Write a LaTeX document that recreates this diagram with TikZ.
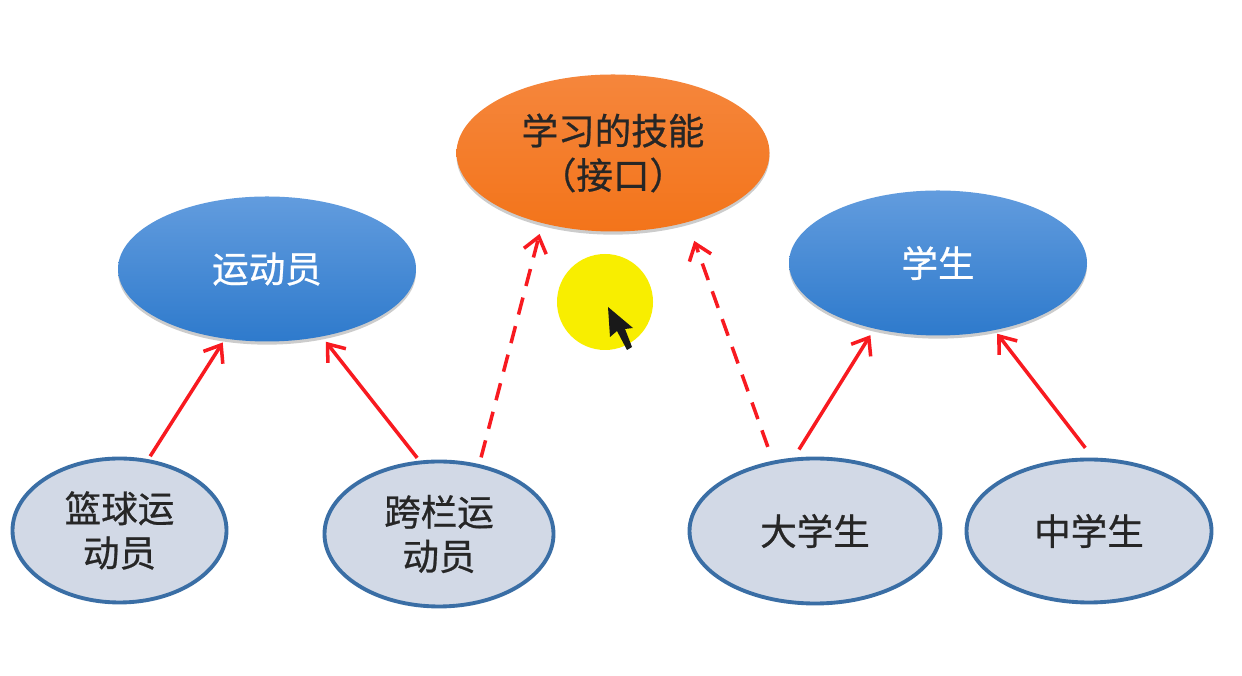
\documentclass[tikz,border=0pt]{standalone}
\usepackage{fontspec}
\setmainfont[RawFeature={embolden=0.7}]{Noto Sans CJK SC}
\usepackage{tikz}
\usetikzlibrary{positioning, arrows.meta, shapes.geometric, shadows}
\definecolor{skillcolor}{RGB}{243,116,26}
\definecolor{skilltop}{RGB}{245,134,60}
\definecolor{basetop}{RGB}{98,156,222}
\definecolor{basebottom}{RGB}{46,122,204}
\definecolor{childfill}{RGB}{210,217,230}
\definecolor{childline}{RGB}{58,110,165}
\definecolor{linkcolor}{RGB}{248,26,32}
\definecolor{markcolor}{RGB}{248,238,0}
\tikzset{
    labeltext/.style={font=\fontsize{10.4}{12.6}\selectfont, align=center},
    topnode/.style={ellipse, inner sep=0pt, labeltext, drop shadow={shadow xshift=0pt, shadow yshift=-0.9pt, opacity=0.4}},
    basenode/.style={topnode, top color=basetop, bottom color=basebottom, text=white, minimum width=2.98cm, minimum height=1.45cm},
    childnode/.style={draw=childline, ellipse, inner sep=0pt, fill=childfill, line width=1.1pt, labeltext, text=black!85},
    solidlink/.style={-{Straight Barb[length=1.5mm, width=2.3mm]}, line width=1pt, linkcolor},
    dashedlink/.style={solidlink, dash pattern=on 5pt off 3.4pt}
}
\begin{document}
\begin{tikzpicture}
    \useasboundingbox (0,0) rectangle (12.42,6.76);
    \fill[white] (0,0) rectangle (12.42,6.76);

    % Interface
    \node[topnode, top color=skilltop, bottom color=skillcolor, text=black!85, minimum width=3.13cm, minimum height=1.57cm] (skill) at (6.13,5.23) {学习的技能\\（接口）};

    % Classes de base
    \node[basenode] (athlete) at (2.67,4.07) {运动员};
    \node[basenode] (student) at (9.38,4.13) {学生};

    % Classes filles
    \node[childnode, minimum width=2.14cm, minimum height=1.44cm] (basketball) at (1.195,1.455) {篮球运\\动员};
    \node[childnode, minimum width=2.29cm, minimum height=1.45cm] (hurdler) at (4.39,1.42) {跨栏运\\动员};
    \node[childnode, minimum width=2.51cm, minimum height=1.45cm] (college) at (8.15,1.45) {大学生};
    \node[childnode, minimum width=2.45cm, minimum height=1.43cm] (school) at (10.89,1.45) {中学生};

    % Flèches pleines
    \draw[solidlink, shorten <=1pt, shorten >=1.1pt] (basketball.68.3) -- (athlete.239.5);
    \draw[solidlink, shorten <=1pt, shorten >=1.7pt] (hurdler.105) -- (athlete.309.3);
    \draw[solidlink, shorten <=2.7pt, shorten >=2pt] (college.106) -- (student.226);
    \draw[solidlink, shorten <=3.5pt, shorten >=1.1pt] (school.87) -- (student.310);

    % Flèches pointillées
    \draw[dashedlink, shorten <=2pt, shorten >=3pt] (hurdler.60.5) -- (skill.225.6);
    \draw[dashedlink, shorten <=4.2pt, shorten >=5.5pt] (college.121) -- (skill.317.6);

    % Curseur
    \node[circle, fill=markcolor, minimum size=0.96cm, inner sep=0pt] (pointer) at (6.05,3.74) {};
    \fill[black!90] (6.08,3.69) -- (6.33,3.48) -- (6.25,3.47) -- (6.32,3.29) -- (6.27,3.26) -- (6.17,3.45) -- (6.10,3.39) -- cycle;
\end{tikzpicture}
\end{document}
